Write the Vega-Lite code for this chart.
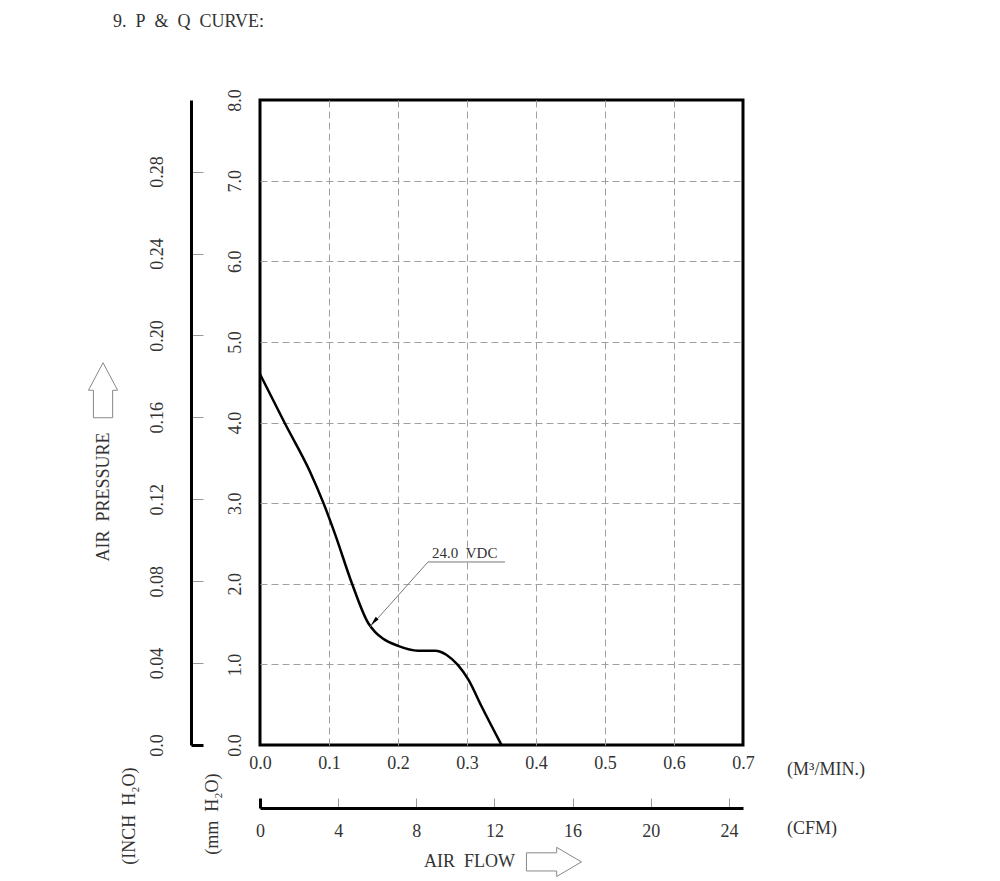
{
  "$schema": "https://vega.github.io/schema/vega-lite/v6.json",
  "width": 483,
  "height": 645,
  "autosize": "none",
  "padding": {"left": 260, "top": 100, "right": 257, "bottom": 136},
  "background": "white",
  "config": {
    "view": {"stroke": "black", "strokeWidth": 3},
    "font": "Liberation Serif",
    "axis": {
      "labelFont": "Liberation Serif",
      "labelFontSize": 18,
      "labelColor": "#333333",
      "labelOverlap": false,
      "labelFlush": false
    },
    "text": {"font": "Liberation Serif", "fontSize": 18, "color": "#333333"}
  },
  "layer": [
    {
      "data": {
        "values": [
          {"flow": 0.0, "pressure": 4.6},
          {"flow": 0.036, "pressure": 3.99},
          {"flow": 0.0725, "pressure": 3.39},
          {"flow": 0.092, "pressure": 3.0},
          {"flow": 0.109, "pressure": 2.61},
          {"flow": 0.133, "pressure": 2.01},
          {"flow": 0.157, "pressure": 1.51},
          {"flow": 0.167, "pressure": 1.4},
          {"flow": 0.178, "pressure": 1.32},
          {"flow": 0.2, "pressure": 1.23},
          {"flow": 0.229, "pressure": 1.17},
          {"flow": 0.254, "pressure": 1.17},
          {"flow": 0.27, "pressure": 1.12},
          {"flow": 0.287, "pressure": 0.99},
          {"flow": 0.302, "pressure": 0.81},
          {"flow": 0.321, "pressure": 0.48},
          {"flow": 0.35, "pressure": 0.0}
        ]
      },
      "mark": {"type": "line", "interpolate": "monotone", "color": "black", "strokeWidth": 2.5},
      "encoding": {
        "x": {
          "field": "flow",
          "type": "quantitative",
          "scale": {"domain": [0, 0.7], "nice": false},
          "axis": {
            "title": null,
            "values": [0, 0.1, 0.2, 0.3, 0.4, 0.5, 0.6, 0.7],
            "format": ".1f",
            "domain": false,
            "ticks": false,
            "tickSize": 0,
            "labelPadding": 9,
            "grid": true,
            "gridDash": [7, 4],
            "gridWidth": 1,
            "gridColor": {"condition": {"test": "datum.value <= 0 || datum.value >= 0.69", "value": "transparent"}, "value": "#a0a0a0"}
          }
        },
        "y": {
          "field": "pressure",
          "type": "quantitative",
          "scale": {"domain": [0, 8], "nice": false},
          "axis": {
            "title": null,
            "values": [0, 1, 2, 3, 4, 5, 6, 7, 8],
            "format": ".1f",
            "domain": false,
            "ticks": false,
            "tickSize": 0,
            "labelAngle": -90,
            "labelAlign": "center",
            "labelBaseline": "bottom",
            "labelPadding": 16,
            "grid": true,
            "gridDash": [7, 4],
            "gridWidth": 1,
            "gridColor": {"condition": {"test": "datum.value <= 0 || datum.value >= 7.9", "value": "transparent"}, "value": "#a0a0a0"}
          }
        }
      }
    },
    {
      "data": {"values": [{}]},
      "mark": {"type": "point", "opacity": 0},
      "encoding": {
        "x": {
          "datum": 0,
          "type": "quantitative",
          "scale": {"domain": [0, 24.72], "nice": false},
          "axis": {
            "title": null,
            "orient": "bottom",
            "offset": 63,
            "values": [0, 4, 8, 12, 16, 20, 24],
            "format": "d",
            "domainColor": "black",
            "domainWidth": 3,
            "tickSize": -10,
            "tickColor": {"condition": {"test": "datum.value == 0", "value": "black"}, "value": "#999999"},
            "tickWidth": {"condition": {"test": "datum.value == 0", "value": 3}, "value": 1},
            "labelPadding": 24,
            "grid": false
          }
        }
      }
    },
    {
      "data": {"values": [{}]},
      "mark": {"type": "point", "opacity": 0},
      "encoding": {
        "y": {
          "datum": 0,
          "type": "quantitative",
          "scale": {"domain": [0, 0.31496], "nice": false},
          "axis": {
            "title": null,
            "orient": "left",
            "offset": 69,
            "values": [0, 0.04, 0.08, 0.12, 0.16, 0.2, 0.24, 0.28],
            "labelExpr": "datum.value == 0 ? '0.0' : format(datum.value, '.2f')",
            "domainColor": "black",
            "domainWidth": 3,
            "tickSize": -12,
            "tickColor": {"condition": {"test": "datum.value == 0", "value": "black"}, "value": "#999999"},
            "tickWidth": {"condition": {"test": "datum.value == 0", "value": 3}, "value": 1},
            "labelAngle": -90,
            "labelAlign": "center",
            "labelBaseline": "bottom",
            "labelPadding": 37,
            "grid": false
          }
        }
      }
    },
    {
      "data": {"values": [{}]},
      "layer": [
        {
          "mark": {"type": "rule", "color": "#777777", "strokeWidth": 1},
          "encoding": {
            "x": {"datum": 0.1594, "type": "quantitative"},
            "y": {"datum": 1.464, "type": "quantitative"},
            "x2": {"datum": 0.2435},
            "y2": {"datum": 2.27}
          }
        },
        {
          "mark": {"type": "rule", "color": "#777777", "strokeWidth": 1},
          "encoding": {
            "x": {"datum": 0.2435, "type": "quantitative"},
            "y": {"datum": 2.27, "type": "quantitative"},
            "x2": {"datum": 0.3551},
            "y2": {"datum": 2.27}
          }
        },
        {
          "mark": {"type": "point", "shape": "M0,-1L0.4,1L-0.4,1Z", "size": 90, "angle": 222, "filled": true, "color": "black", "opacity": 1},
          "encoding": {
            "x": {"datum": 0.1652, "type": "quantitative"},
            "y": {"datum": 1.53, "type": "quantitative"}
          }
        },
        {
          "mark": {"type": "text", "text": "24.0\u00a0\u00a0VDC", "align": "left", "baseline": "alphabetic", "fontSize": 15},
          "encoding": {
            "x": {"datum": 0.2493, "type": "quantitative"},
            "y": {"datum": 2.32, "type": "quantitative"}
          }
        },
        {
          "mark": {"type": "text", "text": "9.\u00a0\u00a0P\u00a0\u00a0&\u00a0\u00a0Q\u00a0\u00a0CURVE:", "align": "left", "baseline": "alphabetic", "fontSize": 18},
          "encoding": {
            "x": {"datum": -0.213, "type": "quantitative"},
            "y": {"datum": 8.908, "type": "quantitative"}
          }
        },
        {
          "mark": {"type": "text", "text": "(M³/MIN.)", "align": "left", "baseline": "middle"},
          "encoding": {
            "x": {"datum": 0.7638, "type": "quantitative"},
            "y": {"datum": -0.31, "type": "quantitative"}
          }
        },
        {
          "mark": {"type": "text", "text": "(CFM)", "align": "left", "baseline": "middle"},
          "encoding": {
            "x": {"datum": 0.7638, "type": "quantitative"},
            "y": {"datum": -1.042, "type": "quantitative"}
          }
        },
        {
          "mark": {"type": "text", "text": "AIR\u00a0\u00a0FLOW", "align": "left", "baseline": "middle"},
          "encoding": {
            "x": {"datum": 0.2377, "type": "quantitative"},
            "y": {"datum": -1.452, "type": "quantitative"}
          }
        },
        {
          "mark": {"type": "text", "text": "AIR\u00a0\u00a0PRESSURE", "align": "center", "baseline": "middle", "angle": 270},
          "encoding": {
            "x": {"datum": -0.226, "type": "quantitative"},
            "y": {"datum": 3.077, "type": "quantitative"}
          }
        },
        {
          "mark": {"type": "text", "text": "(INCH\u00a0\u00a0H₂O)", "align": "center", "baseline": "middle", "angle": 270},
          "encoding": {
            "x": {"datum": -0.1884, "type": "quantitative"},
            "y": {"datum": -0.881, "type": "quantitative"}
          }
        },
        {
          "mark": {"type": "text", "text": "(mm\u00a0\u00a0H₂O)", "align": "center", "baseline": "middle", "angle": 270},
          "encoding": {
            "x": {"datum": -0.0681, "type": "quantitative"},
            "y": {"datum": -0.857, "type": "quantitative"}
          }
        },
        {
          "mark": {"type": "point", "shape": "M0,-1L0.53,0L0.35,0L0.35,1L-0.35,1L-0.35,0L-0.53,0Z", "size": 3025, "filled": false, "stroke": "#888888", "strokeWidth": 1, "opacity": 1},
          "encoding": {
            "x": {"datum": -0.2275, "type": "quantitative"},
            "y": {"datum": 4.4, "type": "quantitative"}
          }
        },
        {
          "mark": {"type": "point", "shape": "M1,0L0.1,-0.53L0.1,-0.33L-1,-0.33L-1,0.33L0.1,0.33L0.1,0.53Z", "size": 3025, "filled": false, "stroke": "#888888", "strokeWidth": 1, "opacity": 1},
          "encoding": {
            "x": {"datum": 0.426, "type": "quantitative"},
            "y": {"datum": -1.45, "type": "quantitative"}
          }
        }
      ],
      "encoding": {
        "x": {"type": "quantitative", "scale": {"domain": [0, 0.7], "nice": false}, "axis": null},
        "y": {"type": "quantitative", "scale": {"domain": [0, 8], "nice": false}, "axis": null}
      }
    }
  ],
  "resolve": {"scale": {"x": "independent", "y": "independent"}}
}
